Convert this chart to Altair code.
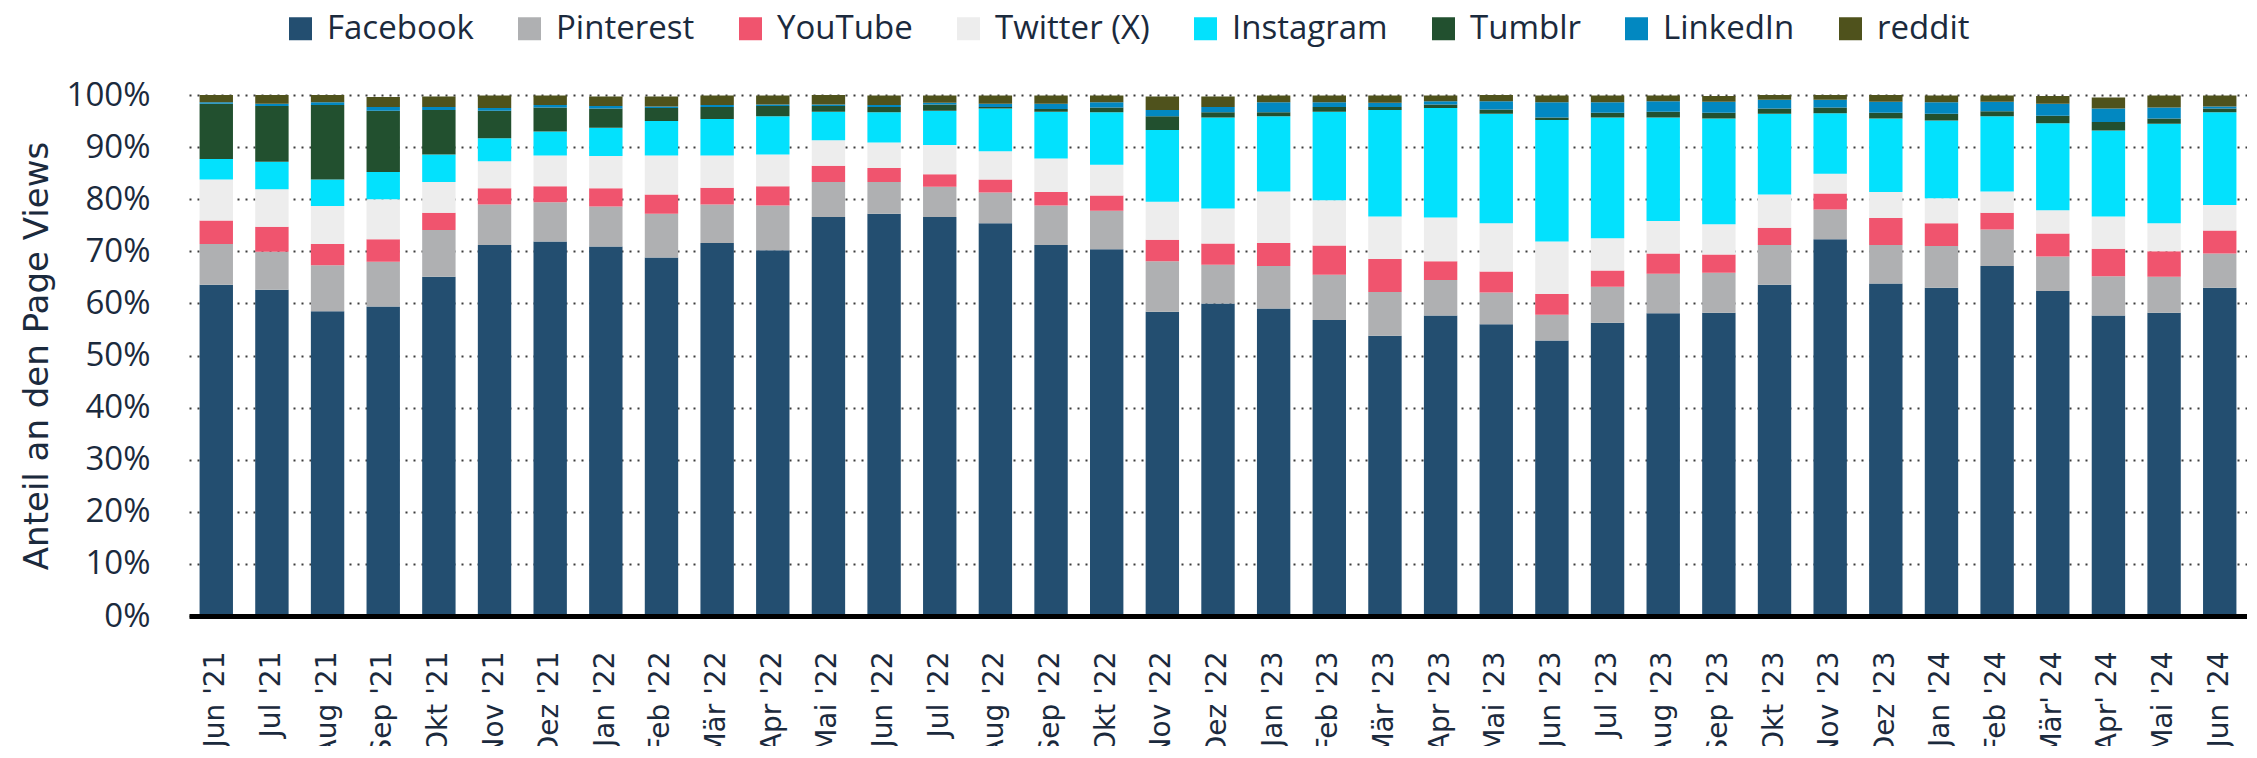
import altair as alt
import pandas as pd

months = ["Jun '21", "Jul '21", "Aug '21", "Sep '21", "Okt '21", "Nov '21", "Dez '21",
          "Jan '22", "Feb '22", "Mär '22", "Apr '22", "Mai '22", "Jun '22", "Jul '22",
          "Aug '22", "Sep '22", "Okt '22", "Nov '22", "Dez '22", "Jan '23", "Feb '23",
          "Mär '23", "Apr '23", "Mai '23", "Jun '23", "Jul '23", "Aug '23", "Sep '23",
          "Okt '23", "Nov '23", "Dez '23", "Jan '24", "Feb '24", "Mär' 24", "Apr' 24",
          "Mai '24", "Jun '24"]

platforms = ["Facebook", "Pinterest", "YouTube", "Twitter (X)", "Instagram", "Tumblr", "LinkedIn", "reddit"]
colors = ["#234e70", "#afb0b2", "#f0546e", "#ededed", "#03e1fd", "#22502f", "#0288c1", "#4f521c"]

facebook = [63.6, 62.6, 58.5, 59.4, 65.1, 71.2, 71.9, 70.9, 68.8, 71.6, 70.2, 76.6, 77.2, 76.6, 75.4,
            71.2, 70.4, 58.4, 60.0, 59.0, 56.8, 53.8, 57.7, 56.0, 52.9, 56.3, 58.1, 58.2, 63.6, 72.3,
            63.8, 63.0, 67.2, 62.4, 57.7, 58.2, 63.0]
pinterest = [7.8, 7.3, 8.8, 8.6, 9.0, 7.8, 7.5, 7.7, 8.4, 7.4, 8.6, 6.7, 6.1, 5.8, 5.9, 7.6, 7.4, 9.7,
             7.4, 8.2, 8.7, 8.4, 6.8, 6.1, 4.9, 6.9, 7.6, 7.7, 7.6, 5.7, 7.4, 8.0, 7.0, 6.6, 7.5, 6.9, 6.6]
youtube = [4.5, 4.8, 4.1, 4.3, 3.3, 3.1, 3.1, 3.5, 3.7, 3.2, 3.7, 3.1, 2.7, 2.4, 2.5, 2.6, 2.9, 4.1,
           4.1, 4.4, 5.6, 6.3, 3.6, 4.0, 4.0, 3.1, 3.9, 3.5, 3.3, 3.1, 5.2, 4.4, 3.2, 4.4, 5.3, 4.9, 4.4]
twitter = [7.9, 7.2, 7.3, 7.7, 5.9, 5.2, 5.9, 6.2, 7.5, 6.2, 6.1, 4.9, 4.9, 5.6, 5.4, 6.4, 5.9, 7.3,
           6.7, 9.9, 8.7, 8.2, 8.4, 9.3, 10.1, 6.2, 6.2, 5.8, 6.4, 3.8, 5.0, 4.8, 4.1, 4.5, 6.2, 5.4, 4.9]
instagram = [3.9, 5.3, 5.1, 5.2, 5.3, 4.4, 4.6, 5.4, 6.6, 7.0, 7.3, 5.5, 5.8, 6.6, 8.2, 9.0, 10.1, 13.8,
             17.5, 14.4, 17.0, 20.4, 21.0, 21.0, 23.3, 23.2, 19.9, 20.3, 15.5, 11.6, 14.1, 14.9, 14.4,
             16.7, 16.5, 19.1, 17.8]
tumblr = [10.6, 10.7, 14.3, 11.8, 8.5, 5.3, 4.6, 3.7, 2.5, 2.3, 2.0, 1.1, 1.0, 1.2, 0.3, 0.5, 0.9, 2.6,
          1.0, 0.8, 0.9, 0.6, 0.7, 0.8, 0.5, 0.9, 1.1, 1.1, 1.0, 1.1, 1.1, 1.3, 1.0, 1.4, 1.6, 1.0, 0.7]
linkedin = [0.3, 0.4, 0.5, 0.7, 0.6, 0.5, 0.5, 0.5, 0.3, 0.4, 0.3, 0.3, 0.4, 0.3, 0.6, 1.0, 1.0, 1.2,
            1.0, 1.9, 0.9, 0.8, 0.6, 1.6, 2.9, 2.0, 2.0, 2.1, 1.7, 1.5, 2.1, 2.2, 1.8, 2.3, 2.6, 2.1, 0.4]
reddit = [1.4, 1.7, 1.4, 1.9, 2.0, 2.4, 1.8, 1.8, 1.9, 1.8, 1.7, 1.8, 1.8, 1.4, 1.6, 1.6, 1.3, 2.6,
          2.0, 1.3, 1.3, 1.4, 1.1, 1.2, 1.3, 1.3, 1.1, 1.1, 0.9, 0.9, 1.3, 1.3, 1.2, 1.5, 2.1, 2.3, 2.1]

series = [facebook, pinterest, youtube, twitter, instagram, tumblr, linkedin, reddit]

rows = []
for k, (name, vals) in enumerate(zip(platforms, series)):
    for m, v in zip(months, vals):
        rows.append({"month": m, "platform": name, "value": v, "order": k})
df = pd.DataFrame(rows)

TEXT = "#1b2a3d"

chart = alt.Chart(df).mark_bar().encode(
    x=alt.X("month:N", sort=months,
            scale=alt.Scale(paddingInner=0.4, paddingOuter=0.19),
            axis=alt.Axis(title=None, labelAngle=270, labelAlign="right", labelBaseline="middle",
                          labelFont="DejaVu Sans", labelFontSize=28, labelColor=TEXT,
                          labelPadding=35, ticks=False, tickSize=0, domainColor="#000000",
                          domainWidth=5, grid=False, zindex=1, labelOverlap=False)),
    y=alt.Y("value:Q", stack="zero",
            scale=alt.Scale(domain=[0, 100], nice=False),
            axis=alt.Axis(title="Anteil an den Page Views", values=list(range(0, 101, 10)),
                          labelExpr="datum.value + '%'", labelFont="Open Sans", labelFontSize=33,
                          labelColor=TEXT, labelPadding=39, ticks=False, tickSize=0, domain=False,
                          grid=True, gridColor="#3c3c3c", gridDash=[2, 6], gridWidth=2,
                          titleFont="DejaVu Sans", titleFontSize=34, titleFontWeight="normal",
                          titleColor=TEXT, titlePadding=12)),
    color=alt.Color("platform:N", sort=platforms,
                    scale=alt.Scale(domain=platforms, range=colors),
                    legend=alt.Legend(title=None, orient="none", legendX=95, legendY=-83,
                                      direction="horizontal", columns=8, symbolType="square",
                                      symbolSize=529, symbolStrokeWidth=0, symbolOpacity=1,
                                      labelFont="Open Sans", labelFontSize=33, labelColor=TEXT,
                                      labelOffset=10, columnPadding=39, labelLimit=0, padding=0)),
    order=alt.Order("order:Q", sort="ascending"),
).properties(
    width=2058, height=521,
    autosize=alt.AutoSizeParams(type="none"),
    padding={"left": 181, "top": 87, "right": 0, "bottom": 130},
).configure_view(stroke=None)

chart.save("out.html", embed_options={"renderer": "svg", "actions": False})
